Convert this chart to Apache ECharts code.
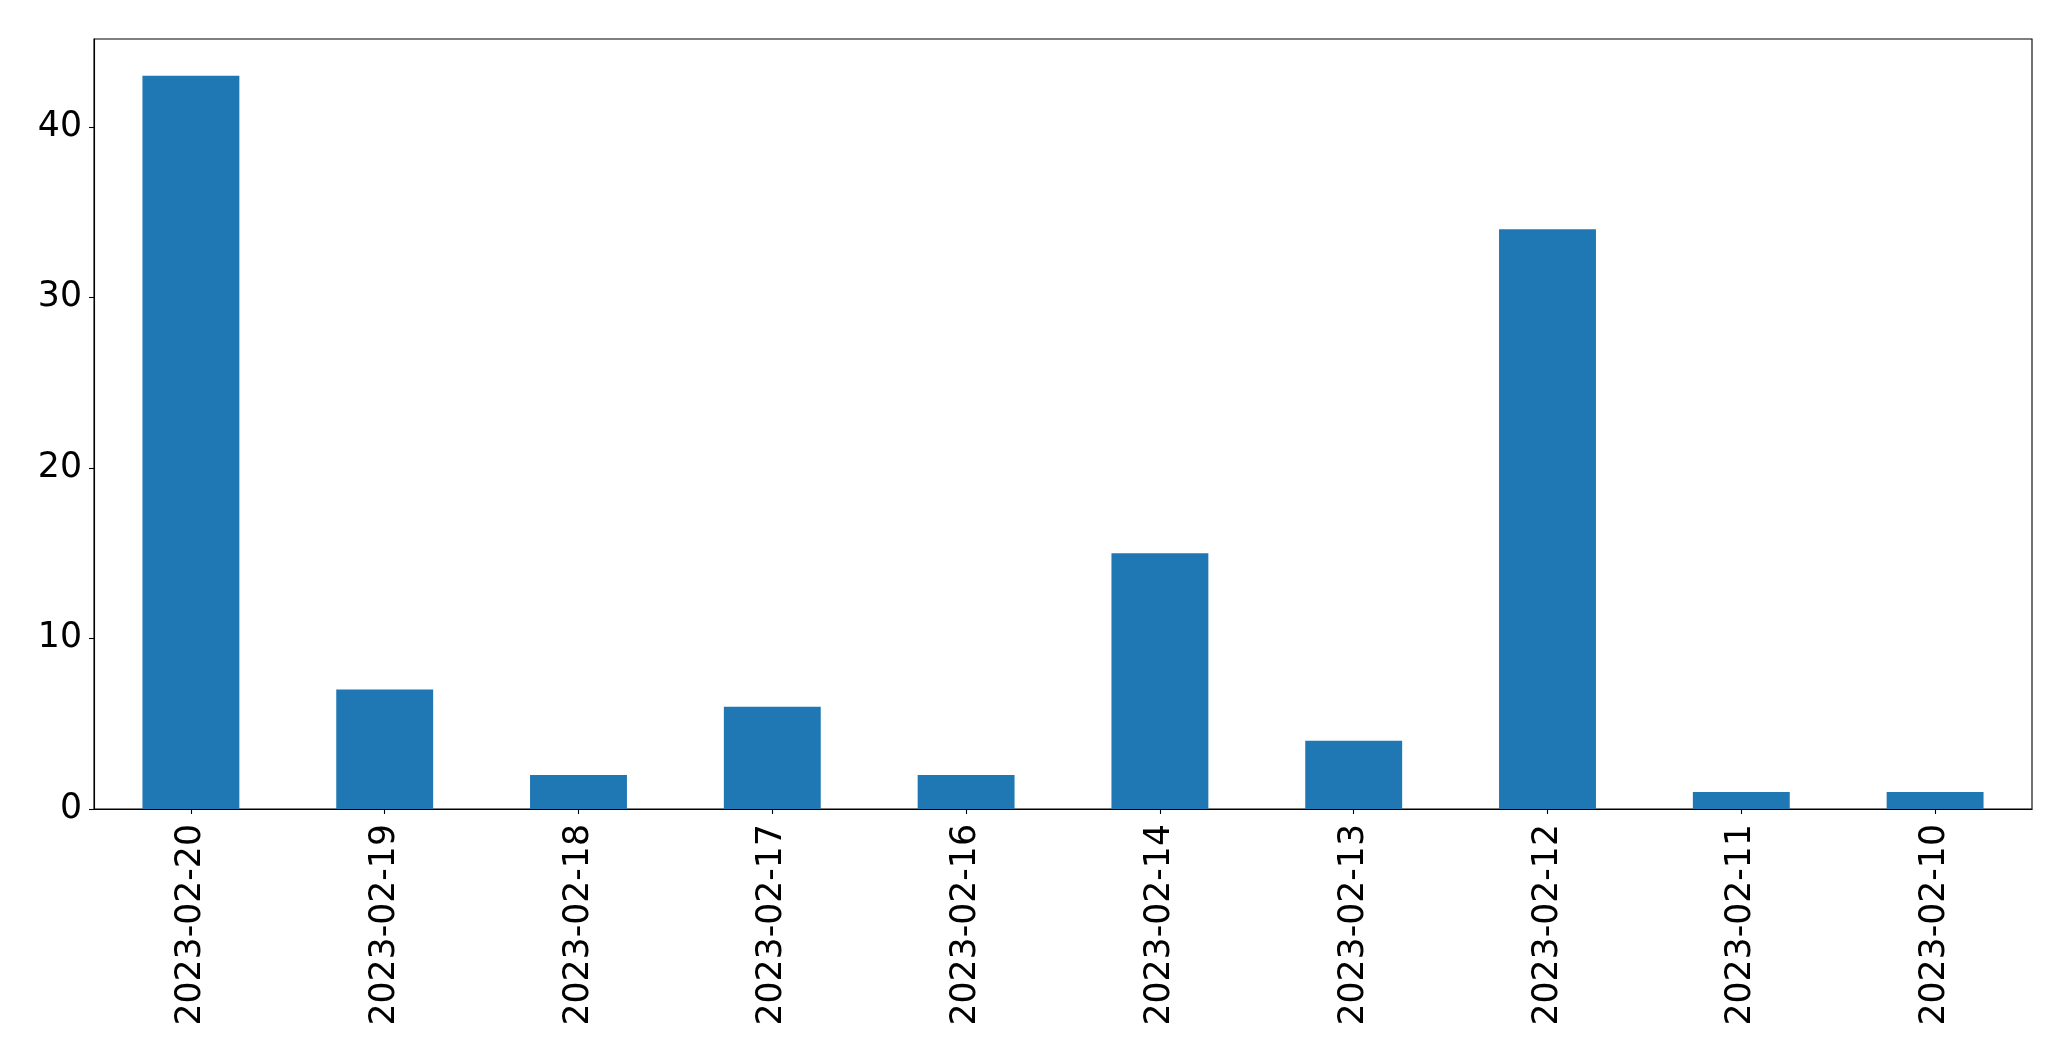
<!DOCTYPE html>
<html>
<head>
<meta charset="utf-8">
<script src="https://cdn.jsdelivr.net/npm/echarts@6/dist/echarts.min.js"></script>
<style>
html,body{margin:0;padding:0;background:#fff;}
#chart{width:2071px;height:1061px;}
</style>
</head>
<body>
<div id="chart"></div>
<script>
const categories = ["2023-02-20","2023-02-19","2023-02-18","2023-02-17","2023-02-16","2023-02-14","2023-02-13","2023-02-12","2023-02-11","2023-02-10"];
const values = [43, 7, 2, 6, 2, 15, 4, 34, 1, 1];
const yTicks = [0, 10, 20, 30, 40];

const chart = echarts.init(document.getElementById('chart'), null, {renderer: 'canvas'});
const font = '"DejaVu Sans", sans-serif';
chart.setOption({
  animation: false,
  backgroundColor: '#ffffff',
  grid: {left: 94, right: 39, top: 39, bottom: 252, show: true, borderColor: '#000', borderWidth: 1.1, containLabel: false},
  xAxis: {
    type: 'category',
    data: categories,
    boundaryGap: true,
    axisLine: {show: true, lineStyle: {color: '#000', width: 1.1}},
    axisTick: {show: true, alignWithLabel: true, length: 5, lineStyle: {color: '#000', width: 1.1}},
    axisLabel: {rotate: 90, margin: 15, fontSize: 34.7, color: '#000', fontFamily: font, interval: 0},
    splitLine: {show: false}
  },
  yAxis: {
    type: 'value',
    min: 0,
    max: 45.15,
    interval: 10,
    axisLine: {show: true, lineStyle: {color: '#000', width: 1.1}},
    axisTick: {show: true, length: 5, lineStyle: {color: '#000', width: 1.1}},
    axisLabel: {
      margin: 12, fontSize: 34.7, color: '#000', fontFamily: font, showMaxLabel: false,
      formatter: v => yTicks.includes(v) ? String(v) : ''
    },
    splitLine: {show: false}
  },
  series: [{
    type: 'bar',
    data: values,
    barWidth: '50%',
    itemStyle: {color: '#1f77b4'}
  }]
});
</script>
</body>
</html>
